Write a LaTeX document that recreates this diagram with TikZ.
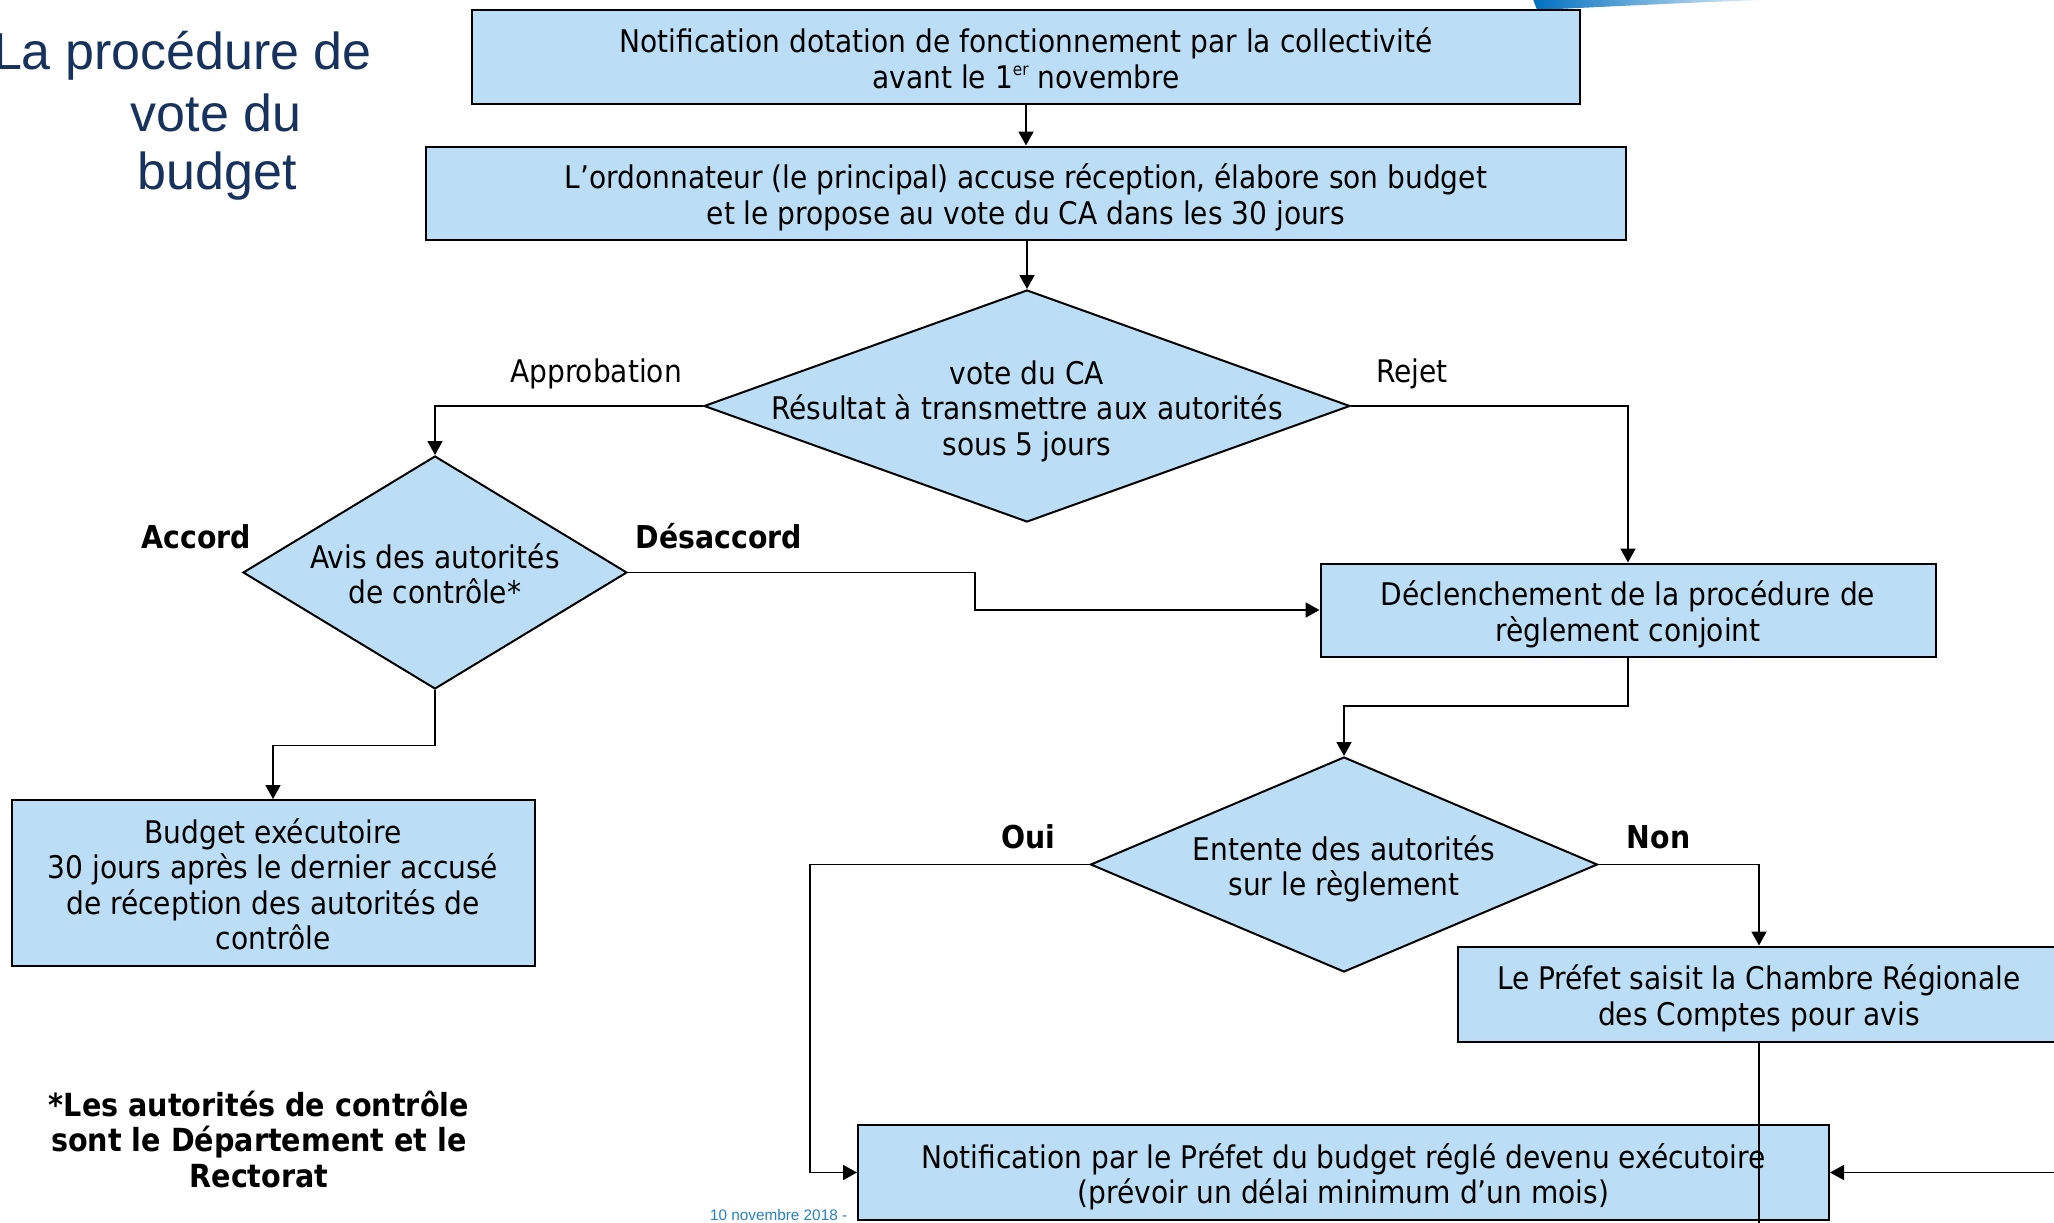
\documentclass[tikz,border=0pt]{standalone}
\usepackage{fontspec}
\setmainfont{DejaVu Sans Condensed}
\newfontfamily\titlefont{Liberation Sans}
\usetikzlibrary{shapes.geometric,arrows.meta}
\definecolor{boxblue}{RGB}{187,222,246}
\definecolor{titlenavy}{RGB}{24,50,94}
\definecolor{footblue}{RGB}{41,128,200}
\definecolor{swoosh}{RGB}{0,112,192}
\newcommand{\supER}{\raisebox{0.42em}{\fontsize{17}{17}\selectfont er}}
\newcommand{\tst}{\rule{0pt}{36pt}}
\newcommand{\bst}{\rule[-8.6pt]{0pt}{8.6pt}}
\begin{document}
\begin{tikzpicture}[x=1pt,y=-1pt,
  mainf/.style={font=\fontsize{31.2}{35.5}\selectfont},
  flowbox/.style={draw=black, line width=2pt, fill=boxblue, rectangle, inner sep=0pt, align=center, mainf},
  decision/.style={draw=black, line width=2pt, fill=boxblue, diamond, inner sep=0pt},
  dtext/.style={align=center, inner sep=0pt, mainf},
  lbl/.style={inner sep=0pt, anchor=base, mainf},
  blbl/.style={inner sep=0pt, anchor=base, font=\fontsize{31.5}{35.5}\selectfont\bfseries},
  conn/.style={draw=black, line width=1.8pt},
  arr/.style={conn, -{Triangle[length=14pt,width=15pt]}},
  titlestyle/.style={inner sep=0pt, text=titlenavy, font=\titlefont\fontsize{52}{60}\selectfont}
]
\useasboundingbox (0,0) rectangle (2054,1223);

% top-right decoration
\shade[left color=swoosh, middle color=swoosh!80, right color=white]
  (1533,-1) -- (1537,10) .. controls (1620,6) and (1700,2) .. (1790,-1) -- cycle;

% title
\node[titlestyle, anchor=base east] (t1) at (372,70) {La procédure de};
\node[titlestyle, anchor=base] (t2) at (216,131) {vote du};
\node[titlestyle, anchor=base] (t3) at (217,189) {budget};

% footer
\node[inner sep=0pt, anchor=base west, text=footblue, font=\titlefont\fontsize{15.3}{18}\selectfont] (foot) at (710,1220) {10 novembre 2018 -};

% boxes
\node[flowbox, minimum width=1108pt, minimum height=93pt] (b1) at (1026,57)
  {\tst Notification dotation de fonctionnement par la collectivité\\avant le 1\supER{} novembre\bst};
\node[flowbox, minimum width=1200pt, minimum height=93pt] (b2) at (1026,193)
  {\tst L’ordonnateur (le principal) accuse réception, élabore son budget\\et le propose au vote du CA dans les 30 jours\bst};
\node[flowbox, minimum width=615pt, minimum height=93pt] (b3) at (1628,610)
  {\tst Déclenchement de la procédure de\\règlement conjoint\bst};
\node[flowbox, minimum width=523pt, minimum height=166pt] (b4) at (273,883)
  {\tst Budget exécutoire\\30 jours après le dernier accusé\\de réception des autorités de\\contrôle\bst};
\node[flowbox, minimum width=971pt, minimum height=95pt] (b5) at (1343.5,1172.5)
  {\tst Notification par le Préfet du budget réglé devenu exécutoire\\(prévoir un délai minimum d’un mois)\bst};
\node[flowbox, minimum width=602pt, minimum height=95pt] (b6) at (1759,994)
  {\tst Le Préfet saisit la Chambre Régionale\\des Comptes pour avis\bst};

% decisions
\node[decision, minimum width=646pt, minimum height=232pt] (d1) at (1027,406) {};
\node[dtext] (d1t) at (1027,406) {\tst vote du CA\\Résultat à transmettre aux autorités\\sous 5 jours\bst};
\node[decision, minimum width=384pt, minimum height=233pt] (d2) at (435,572.5) {};
\node[dtext] (d2t) at (435,572.5) {\tst Avis des autorités\\de contrôle*\bst};
\node[decision, minimum width=507pt, minimum height=215pt] (d3) at (1344,864.5) {};
\node[dtext] (d3t) at (1344,864.5) {\tst Entente des autorités\\sur le règlement\bst};

% labels
\node[lbl] (lApp) at (596,382.5) {Approbation};
\node[lbl] (lRej) at (1412,382.5) {Rejet};
\node[blbl] (lAcc) at (196.5,548.5) {Accord};
\node[blbl] (lDes) at (719,548.5) {Désaccord};
\node[blbl] (lOui) at (1028,848.5) {Oui};
\node[blbl] (lNon) at (1658.5,848.5) {Non};

% footnote
\node[align=center, inner sep=0pt, font=\fontsize{31.8}{35.5}\selectfont\bfseries] (fn) at (259,1138)
  {\tst *Les autorités de contrôle\\sont le Département et le\\Rectorat\bst};

% helper coordinates
\coordinate (j1) at (974.6,572.5);
\coordinate (j2) at (1628,706);
\coordinate (j3) at (435,745.4);
\coordinate (j4) at (809.6,864.5);
\coordinate (redge) at (2060,1172.5);
\coordinate (bedge) at (1759,1230);

% connectors
\draw[arr] (b1.south) -- (b2.north);
\draw[arr] (b2.south -| d1.north) -- (d1.north);
\draw[arr] (d1.west) -| (d2.north);
\draw[arr] (d1.east) -| (b3.north);
\draw[arr] (d2.east) -- (j1) |- (b3.west);
\draw[arr] (b3.south) -- (j2) -| (d3.north);
\draw[arr] (d2.south) -- (j3) -| (b4.north);
\draw[arr] (d3.west) -- (j4) |- (b5.west);
\draw[arr] (d3.east) -| (b6.north);
\draw[conn] (b6.south) -- (bedge);
\draw[arr] (redge) -- (b5.east);
\end{tikzpicture}
\end{document}
